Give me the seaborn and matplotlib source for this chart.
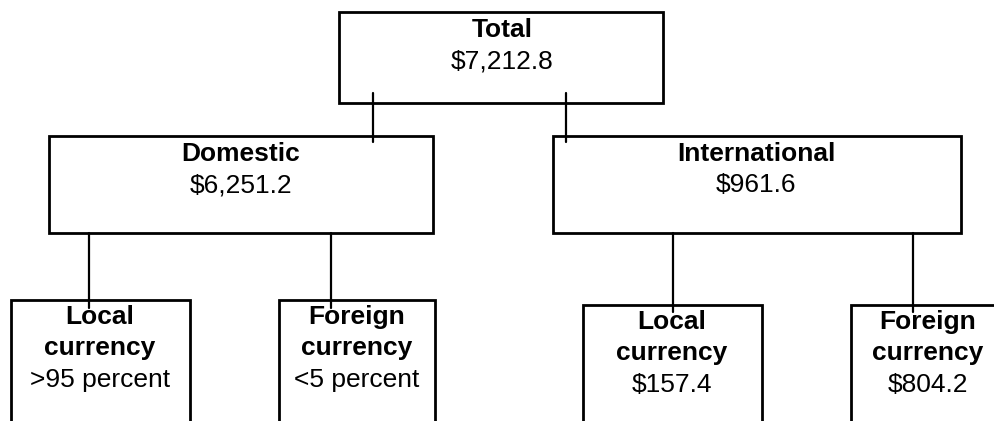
import matplotlib
matplotlib.use("Agg")
import matplotlib.pyplot as plt
import seaborn as sns
import pandas as pd
from matplotlib.patches import Rectangle

sns.set_theme(style="white")
plt.rcParams['font.family'] = ['Liberation Sans', 'DejaVu Sans']

# Data
node_titles = ["Total", "Domestic", "International",
               "Local\ncurrency", "Foreign\ncurrency",
               "Local\ncurrency", "Foreign\ncurrency"]
node_values = ["$7,212.8", "$6,251.2", "$961.6",
               ">95 percent", "<5 percent", "$157.4", "$804.2"]

# Layout (pixels, y downward)
boxes = [  # left, top, right, bottom
    (339, 12, 663, 103),
    (49, 136, 433, 233),
    (553, 136, 961, 233),
    (11, 300, 190, 440),
    (279, 300, 435, 440),
    (583, 305, 762, 440),
    (851, 305, 1010, 440),
]
text_x = [502, 241, 756, 100, 357, 672, 928]
title_base = [37, 161, 161, 324, 324, 329, 329]
value_base = [68, 192, 192, 387, 387, 392, 392]

connectors = pd.DataFrame({
    "id": [0, 0, 1, 1, 2, 2, 3, 3, 4, 4, 5, 5],
    "x": [373, 373, 566, 566, 89, 89, 331, 331, 673, 673, 913, 913],
    "y": [93, 142, 93, 142, 233, 308, 233, 308, 233, 312, 233, 312],
})

fig = plt.figure(figsize=(9.95, 4.21), dpi=100)
ax = fig.add_axes([0, 0, 1, 1])

lw = 2.0
for (l, t, r, b) in boxes:
    ax.add_patch(Rectangle((l, t), r - l, b - t, facecolor="white",
                           edgecolor="black", linewidth=lw, zorder=2))

sns.lineplot(data=connectors, x="x", y="y", units="id", estimator=None,
             color="black", linewidth=1.6, sort=False, ax=ax, zorder=3,
             legend=False)
ax.set_xlim(0, 995)
ax.set_ylim(421, 0)
ax.axis("off")

fs = 19
lh = 31
for i in range(len(node_titles)):
    lines = node_titles[i].split("\n")
    for j, ln in enumerate(lines):
        y = title_base[i] + j * lh
        ax.text(text_x[i], y, ln, ha="center", va="baseline",
                fontsize=fs, fontweight="bold", color="black", zorder=4)
    ax.text(text_x[i], value_base[i], node_values[i], ha="center",
            va="baseline", fontsize=fs, color="black", zorder=4)

fig.savefig("out.png", dpi=100)
